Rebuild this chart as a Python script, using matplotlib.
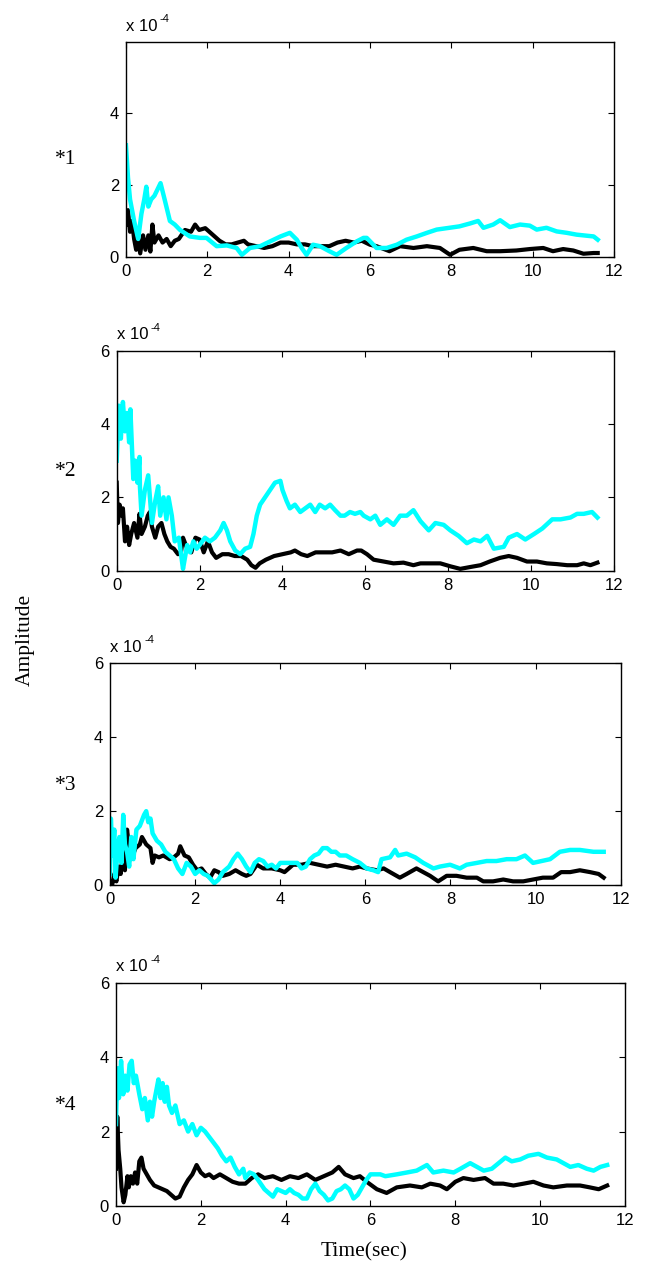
import numpy as np
import matplotlib
matplotlib.use("Agg")
from matplotlib import pyplot as plt

# amplitude traces, values in units of 1e-4, (time [s], value) pairs
ch1_black = [
    (0.0, 0.9), (0.05, 1.3), (0.1, 0.7), (0.15, 1.0), (0.2, 0.5), (0.25, 0.2), (0.3, 0.5),
    (0.35, 0.1), (0.42, 0.6), (0.48, 0.2), (0.55, 0.6), (0.6, 0.15), (0.65, 0.9), (0.7, 0.4),
    (0.8, 0.6), (0.9, 0.4), (1.0, 0.5), (1.1, 0.3), (1.2, 0.45), (1.3, 0.5), (1.45, 0.75),
    (1.6, 0.7), (1.7, 0.9), (1.8, 0.75), (1.95, 0.8), (2.1, 0.65), (2.2, 0.55), (2.3, 0.45),
    (2.45, 0.35), (2.6, 0.35), (2.75, 0.4), (2.9, 0.45), (3.0, 0.35), (3.2, 0.3), (3.4, 0.25),
    (3.6, 0.3), (3.8, 0.4), (4.0, 0.4), (4.2, 0.35), (4.4, 0.35), (4.6, 0.3), (4.8, 0.3),
    (5.0, 0.3), (5.2, 0.4), (5.4, 0.45), (5.6, 0.4), (5.8, 0.45), (6.0, 0.34), (6.16, 0.3),
    (6.48, 0.16), (6.74, 0.3), (7.07, 0.25), (7.4, 0.3), (7.72, 0.25), (7.97, 0.06),
    (8.2, 0.2), (8.54, 0.25), (8.87, 0.16), (9.2, 0.16), (9.6, 0.18), (9.93, 0.22),
    (10.26, 0.25), (10.5, 0.16), (10.75, 0.22), (11.0, 0.18), (11.25, 0.09), (11.5, 0.11),
    (11.6, 0.11),
]
ch1_cyan = [
    (0.0, 3.1), (0.05, 2.2), (0.1, 1.6), (0.2, 1.0), (0.3, 0.5), (0.38, 1.2), (0.45, 1.6),
    (0.5, 1.95), (0.55, 1.4), (0.62, 1.6), (0.7, 1.7), (0.85, 2.05), (0.95, 1.6),
    (1.08, 1.0), (1.2, 0.9), (1.33, 0.75), (1.57, 0.57), (1.82, 0.53), (1.98, 0.53),
    (2.23, 0.3), (2.48, 0.32), (2.72, 0.25), (2.85, 0.06), (3.05, 0.25), (3.3, 0.3),
    (3.54, 0.43), (3.8, 0.57), (4.03, 0.67), (4.2, 0.48), (4.32, 0.25), (4.44, 0.06),
    (4.6, 0.34), (4.77, 0.3), (5.0, 0.16), (5.18, 0.06), (5.42, 0.25), (5.67, 0.43),
    (5.84, 0.53), (5.92, 0.53), (6.16, 0.25), (6.41, 0.25), (6.66, 0.34), (6.9, 0.48),
    (7.15, 0.57), (7.4, 0.67), (7.64, 0.76), (7.89, 0.8), (8.2, 0.85), (8.46, 0.93),
    (8.66, 1.0), (8.79, 0.81), (9.03, 0.9), (9.2, 1.02), (9.44, 0.83), (9.69, 0.9),
    (9.93, 0.87), (10.1, 0.76), (10.34, 0.81), (10.59, 0.71), (10.84, 0.67), (11.08, 0.62),
    (11.33, 0.59), (11.5, 0.57), (11.6, 0.48),
]

ch2_black = [
    (0.0, 2.4), (0.03, 1.3), (0.07, 1.8), (0.12, 1.5), (0.15, 1.7), (0.2, 0.8), (0.25, 1.2),
    (0.3, 0.7), (0.35, 1.0), (0.42, 1.3), (0.5, 0.9), (0.55, 1.55), (0.6, 1.0), (0.68, 1.2),
    (0.75, 1.5), (0.8, 1.6), (0.85, 1.2), (0.93, 0.9), (1.0, 1.2), (1.08, 1.3), (1.15, 1.0),
    (1.22, 0.8), (1.3, 0.65), (1.38, 0.6), (1.48, 0.45), (1.55, 0.5), (1.6, 0.9), (1.7, 0.6),
    (1.8, 0.5), (1.9, 0.9), (2.0, 0.85), (2.1, 0.5), (2.2, 0.8), (2.3, 0.5), (2.4, 0.35),
    (2.55, 0.45), (2.7, 0.45), (2.85, 0.4), (3.0, 0.4), (3.15, 0.3), (3.25, 0.15),
    (3.35, 0.08), (3.45, 0.2), (3.6, 0.3), (3.8, 0.4), (4.0, 0.45), (4.2, 0.5), (4.3, 0.55),
    (4.45, 0.45), (4.6, 0.4), (4.8, 0.5), (5.0, 0.5), (5.2, 0.5), (5.4, 0.55), (5.6, 0.45),
    (5.8, 0.55), (5.9, 0.55), (6.04, 0.45), (6.2, 0.3), (6.44, 0.25), (6.68, 0.2),
    (6.92, 0.22), (7.16, 0.15), (7.33, 0.2), (7.57, 0.2), (7.81, 0.2), (8.05, 0.12),
    (8.29, 0.05), (8.53, 0.1), (8.78, 0.15), (9.0, 0.25), (9.25, 0.35), (9.46, 0.4),
    (9.66, 0.35), (9.9, 0.25), (10.14, 0.25), (10.38, 0.2), (10.62, 0.18), (10.87, 0.15),
    (11.11, 0.15), (11.27, 0.2), (11.43, 0.15), (11.6, 0.22),
]
ch2_cyan = [
    (0.0, 3.0), (0.05, 4.5), (0.1, 3.6), (0.15, 4.6), (0.2, 3.8), (0.25, 4.3), (0.3, 3.5),
    (0.33, 4.4), (0.4, 2.5), (0.45, 3.0), (0.5, 2.4), (0.55, 3.1), (0.56, 2.3), (0.6, 1.5),
    (0.68, 2.2), (0.76, 2.6), (0.85, 1.3), (0.93, 1.9), (1.0, 2.3), (1.05, 1.5), (1.13, 2.0),
    (1.2, 1.4), (1.25, 2.0), (1.33, 1.5), (1.4, 0.8), (1.5, 0.9), (1.57, 0.3), (1.6, 0.05),
    (1.7, 0.7), (1.77, 0.5), (1.85, 0.8), (1.93, 0.6), (2.0, 0.7), (2.13, 0.9), (2.25, 0.8),
    (2.37, 0.9), (2.5, 1.1), (2.58, 1.3), (2.66, 1.1), (2.74, 0.8), (2.86, 0.55),
    (2.98, 0.45), (3.1, 0.6), (3.22, 0.65), (3.3, 1.0), (3.38, 1.5), (3.46, 1.8),
    (3.58, 2.0), (3.7, 2.2), (3.82, 2.4), (3.95, 2.45), (4.0, 2.2), (4.1, 1.9), (4.18, 1.7),
    (4.3, 1.8), (4.43, 1.6), (4.55, 1.7), (4.67, 1.8), (4.79, 1.6), (4.9, 1.8), (5.03, 1.7),
    (5.15, 1.8), (5.27, 1.65), (5.4, 1.5), (5.5, 1.5), (5.63, 1.6), (5.75, 1.55),
    (5.88, 1.6), (5.96, 1.5), (6.12, 1.4), (6.24, 1.5), (6.36, 1.25), (6.52, 1.4),
    (6.68, 1.25), (6.84, 1.5), (7.0, 1.5), (7.16, 1.65), (7.33, 1.35), (7.53, 1.1),
    (7.69, 1.3), (7.89, 1.25), (8.05, 1.1), (8.25, 0.95), (8.45, 0.75), (8.62, 0.85),
    (8.78, 0.8), (8.94, 0.95), (9.1, 0.6), (9.34, 0.65), (9.46, 0.9), (9.66, 1.0),
    (9.86, 0.85), (10.07, 1.0), (10.27, 1.15), (10.51, 1.4), (10.71, 1.4), (10.95, 1.45),
    (11.11, 1.55), (11.27, 1.55), (11.47, 1.6), (11.6, 1.45),
]

ch3_black = [
    (0.0, 0.1), (0.05, 0.0), (0.1, 0.3), (0.15, 0.1), (0.2, 0.5), (0.25, 0.3), (0.3, 0.8),
    (0.35, 0.4), (0.4, 1.5), (0.45, 1.0), (0.5, 0.7), (0.6, 1.0), (0.7, 1.1), (0.75, 1.3),
    (0.85, 1.1), (0.95, 1.0), (1.0, 0.6), (1.05, 0.8), (1.15, 0.75), (1.25, 0.8), (1.4, 0.7),
    (1.5, 0.75), (1.6, 0.85), (1.65, 1.05), (1.75, 0.8), (1.85, 0.75), (1.95, 0.55),
    (2.05, 0.4), (2.15, 0.45), (2.25, 0.3), (2.35, 0.2), (2.45, 0.4), (2.55, 0.35),
    (2.65, 0.25), (2.8, 0.3), (2.95, 0.4), (3.1, 0.3), (3.2, 0.25), (3.3, 0.3), (3.45, 0.55),
    (3.6, 0.45), (3.8, 0.45), (4.0, 0.4), (4.1, 0.35), (4.3, 0.55), (4.5, 0.55), (4.7, 0.6),
    (4.9, 0.55), (5.1, 0.5), (5.3, 0.55), (5.5, 0.5), (5.7, 0.45), (5.87, 0.5), (6.03, 0.45),
    (6.27, 0.4), (6.43, 0.45), (6.58, 0.35), (6.81, 0.2), (6.97, 0.3), (7.2, 0.45),
    (7.36, 0.35), (7.52, 0.25), (7.71, 0.1), (7.91, 0.25), (8.14, 0.25), (8.38, 0.2),
    (8.62, 0.2), (8.77, 0.1), (9.0, 0.1), (9.24, 0.15), (9.47, 0.1), (9.71, 0.1),
    (9.94, 0.15), (10.17, 0.2), (10.41, 0.2), (10.6, 0.35), (10.81, 0.35), (11.04, 0.4),
    (11.28, 0.35), (11.48, 0.3), (11.6, 0.2),
]
ch3_cyan = [
    (0.0, 0.3), (0.02, 1.8), (0.06, 0.8), (0.1, 1.5), (0.13, 0.2), (0.18, 1.0), (0.22, 1.3),
    (0.27, 0.6), (0.31, 1.9), (0.35, 1.1), (0.4, 0.9), (0.45, 0.5), (0.5, 1.3), (0.55, 0.7),
    (0.62, 1.5), (0.7, 1.6), (0.8, 1.9), (0.85, 2.0), (0.9, 1.7), (0.95, 1.8), (1.0, 1.4),
    (1.1, 1.2), (1.2, 1.1), (1.3, 0.9), (1.4, 0.8), (1.5, 0.7), (1.6, 0.45), (1.7, 0.3),
    (1.8, 0.6), (1.9, 0.5), (2.0, 0.3), (2.1, 0.4), (2.2, 0.3), (2.3, 0.25), (2.45, 0.05),
    (2.55, 0.15), (2.65, 0.35), (2.8, 0.5), (2.9, 0.7), (3.0, 0.85), (3.1, 0.7), (3.2, 0.5),
    (3.3, 0.35), (3.4, 0.6), (3.5, 0.7), (3.6, 0.65), (3.7, 0.5), (3.8, 0.55), (3.9, 0.45),
    (4.0, 0.6), (4.2, 0.6), (4.4, 0.6), (4.5, 0.45), (4.6, 0.5), (4.7, 0.7), (4.8, 0.8),
    (4.9, 0.85), (5.0, 1.0), (5.1, 1.0), (5.2, 0.9), (5.3, 0.9), (5.4, 0.8), (5.55, 0.8),
    (5.7, 0.7), (5.87, 0.6), (6.03, 0.45), (6.19, 0.4), (6.3, 0.35), (6.38, 0.7),
    (6.58, 0.75), (6.7, 0.95), (6.77, 0.8), (6.97, 0.85), (7.17, 0.75), (7.36, 0.6),
    (7.6, 0.45), (7.75, 0.5), (7.99, 0.55), (8.22, 0.45), (8.38, 0.55), (8.62, 0.6),
    (8.85, 0.65), (9.08, 0.65), (9.32, 0.7), (9.55, 0.7), (9.75, 0.8), (9.94, 0.6),
    (10.14, 0.65), (10.34, 0.7), (10.57, 0.9), (10.81, 0.95), (11.04, 0.95), (11.36, 0.9),
    (11.6, 0.9),
]

ch4_black = [
    (0.0, 1.0), (0.03, 2.4), (0.06, 1.5), (0.1, 1.0), (0.13, 0.5), (0.18, 0.1), (0.22, 0.3),
    (0.27, 0.8), (0.3, 0.5), (0.35, 0.8), (0.4, 0.6), (0.45, 0.9), (0.5, 0.6), (0.55, 1.2),
    (0.6, 1.3), (0.65, 1.0), (0.7, 0.9), (0.8, 0.7), (0.9, 0.55), (1.0, 0.5), (1.1, 0.45),
    (1.2, 0.4), (1.3, 0.3), (1.4, 0.2), (1.5, 0.25), (1.6, 0.5), (1.7, 0.7), (1.8, 0.85),
    (1.9, 1.1), (2.0, 0.9), (2.1, 0.8), (2.2, 0.85), (2.3, 0.75), (2.45, 0.85), (2.6, 0.75),
    (2.75, 0.65), (2.9, 0.6), (3.05, 0.6), (3.2, 0.75), (3.35, 0.85), (3.5, 0.75),
    (3.7, 0.8), (3.9, 0.7), (4.1, 0.8), (4.3, 0.75), (4.5, 0.85), (4.7, 0.7), (4.9, 0.8),
    (5.1, 0.9), (5.25, 1.05), (5.4, 0.85), (5.6, 0.75), (5.75, 0.8), (5.91, 0.65),
    (6.15, 0.45), (6.38, 0.35), (6.62, 0.5), (6.93, 0.55), (7.21, 0.5), (7.41, 0.6),
    (7.64, 0.55), (7.8, 0.45), (8.0, 0.65), (8.19, 0.75), (8.43, 0.7), (8.7, 0.75),
    (8.9, 0.6), (9.13, 0.6), (9.37, 0.55), (9.61, 0.6), (9.84, 0.65), (10.08, 0.55),
    (10.31, 0.5), (10.63, 0.55), (10.94, 0.55), (11.17, 0.5), (11.38, 0.45), (11.58, 0.55),
]
ch4_cyan = [
    (0.0, 2.2), (0.03, 3.7), (0.07, 2.9), (0.12, 3.9), (0.17, 3.0), (0.22, 3.5), (0.27, 3.1),
    (0.32, 3.8), (0.37, 3.9), (0.42, 3.3), (0.47, 3.5), (0.55, 3.0), (0.62, 2.6), (0.68, 2.9),
    (0.75, 2.3), (0.8, 2.8), (0.85, 2.4), (0.9, 2.8), (0.95, 3.1), (1.0, 3.4), (1.05, 2.9),
    (1.1, 3.3), (1.15, 2.8), (1.2, 3.2), (1.25, 2.7), (1.32, 2.5), (1.4, 2.7), (1.5, 2.2),
    (1.6, 2.3), (1.7, 2.0), (1.8, 2.2), (1.9, 1.9), (2.0, 2.1), (2.1, 2.0), (2.2, 1.85),
    (2.3, 1.7), (2.4, 1.55), (2.5, 1.35), (2.6, 1.2), (2.7, 1.3), (2.8, 1.05), (2.9, 0.85),
    (3.0, 1.0), (3.05, 0.75), (3.15, 0.9), (3.25, 0.85), (3.35, 0.7), (3.5, 0.45),
    (3.6, 0.35), (3.7, 0.25), (3.8, 0.45), (3.9, 0.4), (4.0, 0.35), (4.1, 0.45), (4.2, 0.35),
    (4.3, 0.3), (4.4, 0.2), (4.5, 0.2), (4.6, 0.45), (4.7, 0.6), (4.8, 0.4), (4.9, 0.3),
    (5.0, 0.15), (5.1, 0.2), (5.2, 0.4), (5.3, 0.45), (5.4, 0.55), (5.5, 0.45), (5.6, 0.2),
    (5.7, 0.3), (5.8, 0.5), (5.9, 0.7), (6.0, 0.85), (6.23, 0.85), (6.35, 0.8), (6.62, 0.85),
    (6.86, 0.9), (7.09, 0.95), (7.33, 1.1), (7.48, 0.9), (7.72, 0.95), (7.96, 0.9),
    (8.12, 1.0), (8.35, 1.15), (8.51, 1.05), (8.67, 0.95), (8.86, 1.0), (9.02, 1.15),
    (9.18, 1.3), (9.33, 1.2), (9.53, 1.25), (9.72, 1.35), (9.96, 1.4), (10.16, 1.3),
    (10.39, 1.25), (10.55, 1.15), (10.71, 1.05), (10.9, 1.1), (11.1, 1.0), (11.26, 0.95),
    (11.42, 1.05), (11.58, 1.1),
]

channel_labels = ["*1", "*2", "*3", "*4"]
channels = [(ch1_black, ch1_cyan), (ch2_black, ch2_cyan), (ch3_black, ch3_cyan), (ch4_black, ch4_cyan)]
y_ticks = [[0, 2, 4], [0, 2, 4, 6], [0, 2, 4, 6], [0, 2, 4, 6]]
x_ticks = [0, 2, 4, 6, 8, 10, 12]

# panel rectangles in figure fractions: left, bottom, width, height
panel_rects = [
    (0.1944, 0.7967, 0.7531, 0.1701),
    (0.1801, 0.5485, 0.7674, 0.1741),
    (0.1698, 0.2998, 0.7881, 0.1754),
    (0.1790, 0.0459, 0.7855, 0.1767),
]
panel_ytop = [5.97, 6.0, 6.0, 6.0]
label_y_px = [159, 472, 785, 1105]

sans = "Liberation Sans"
serif = "Liberation Serif"

fig = plt.figure(figsize=(6.48, 12.64), dpi=100)

for i, ((blk, cyn), rect) in enumerate(zip(channels, panel_rects)):
    ax = fig.add_axes(rect)
    blk = np.array(blk)
    cyn = np.array(cyn)
    ax.plot(blk[:, 0], blk[:, 1], color="black", lw=3.0)
    ax.plot(cyn[:, 0], cyn[:, 1], color=(0, 1, 1), lw=3.2)

    ax.set_xlim(0, 12)
    ax.set_ylim(0, panel_ytop[i])
    ax.set_xticks(x_ticks)
    ax.set_yticks(y_ticks[i])
    ax.tick_params(direction="in", top=True, right=True, length=4, width=0.8,
                   labelsize=12, pad=5)
    for lbl in ax.get_xticklabels() + ax.get_yticklabels():
        lbl.set_fontfamily(sans)
    for sp in ax.spines.values():
        sp.set_linewidth(1.0)

    # exponent shown above the axis, MATLAB style
    ax.annotate("x 10", xy=(0, 1), xycoords="axes fraction", xytext=(0, 6),
                textcoords="offset points", fontsize=12, family=sans,
                ha="left", va="bottom")
    ax.annotate("-4", xy=(0, 1), xycoords="axes fraction", xytext=(24.5, 13),
                textcoords="offset points", fontsize=8, family=sans,
                ha="left", va="bottom")

    # channel name on the left
    fig.text(66 / 648, 1 - label_y_px[i] / 1264, channel_labels[i],
             family=serif, fontsize=15.5, ha="center", va="center")

fig.text(25 / 648, 1 - 640 / 1264, "Amplitude", rotation=90, family=serif,
         fontsize=15.5, ha="center", va="center")
fig.text(364 / 648, 1 - 1252 / 1264, "Time(sec)", family=serif, fontsize=15.5,
         ha="center", va="center")

fig.savefig("out.png", dpi=100)
